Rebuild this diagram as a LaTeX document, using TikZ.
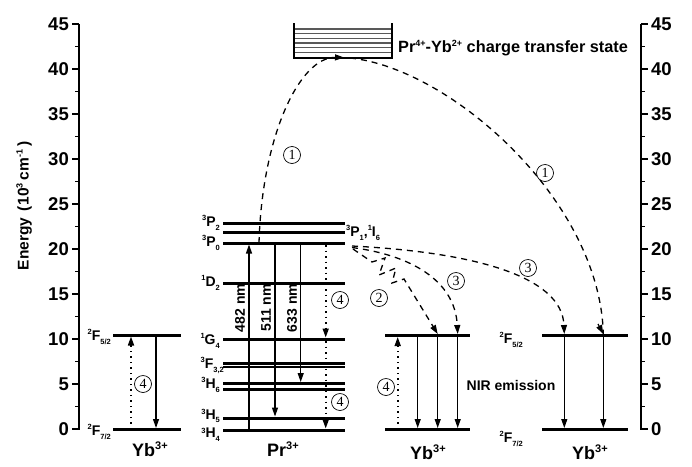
\documentclass[tikz,border=0pt]{standalone}
\usepackage{fontspec}
\setmainfont{Liberation Sans}
\newfontfamily\numfont{Liberation Serif}
\usetikzlibrary{arrows.meta}
\newcommand{\Lsup}[1]{\raisebox{5.5pt}{\fontsize{7.5}{7.5}\selectfont #1}}
\newcommand{\Lsub}[1]{\raisebox{-4pt}{\fontsize{7.5}{7.5}\selectfont #1}}
\newcommand{\Bsup}[1]{\raisebox{7pt}{\fontsize{11}{11}\selectfont #1}}
\newcommand{\Csup}[1]{\raisebox{6pt}{\fontsize{9}{9}\selectfont #1}}
\begin{document}
\begin{tikzpicture}[x=1pt,y=-1pt,
  every node/.style={font=\bfseries\fontsize{14}{14}\selectfont, inner sep=0pt},
  level/.style={line width=3pt},
  axisln/.style={line width=1.4pt},
  arr/.style={line width=1.2pt,-{Triangle[length=9pt,width=6pt]}},
  dsh/.style={line width=1.3pt,dash pattern=on 6pt off 5pt},
  dsharr/.style={dsh,-{Triangle[length=9pt,width=6pt]}},
  dots/.style={line width=1.6pt,dash pattern=on 1.5pt off 4pt},
  dotsarr/.style={dots,-{Triangle[length=9pt,width=6pt]}},
  circ/.style={draw,circle,line width=0.7pt,minimum size=17pt,inner sep=0pt,font=\numfont\fontsize{14}{14}\selectfont},
  tick/.style={font=\bfseries\fontsize{18.5}{18.5}\selectfont},
  ion/.style={font=\bfseries\fontsize{18}{18}\selectfont},
  lab/.style={font=\bfseries\fontsize{14}{14}\selectfont}]
\useasboundingbox (0,0) rectangle (692,466);
\fill[white] (0,0) rectangle (692,466);

% ---------- axes ----------
\coordinate (LA0) at (79,429.5);
\coordinate (LA45) at (79,24);
\coordinate (RA0) at (641,429.5);
\coordinate (RA45) at (641,24);
\draw[axisln] (LA45) -- (LA0);
\draw[axisln] (RA45) -- (RA0);
\foreach \v in {0,5,...,45} {
  \draw[axisln] (79,{429-9*\v}) -- ++(-7,0);
  \draw[axisln] (641,{429-9*\v}) -- ++(7,0);
  \node[tick,anchor=east] (L\v) at (69,{429-9*\v}) {\v};
  \node[tick,anchor=west] (R\v) at (651,{429-9*\v}) {\v};
}
\foreach \v in {2.5,7.5,...,42.5} {
  \draw[axisln] (79,{429-9*\v}) -- ++(-4,0);
  \draw[axisln] (641,{429-9*\v}) -- ++(4,0);
}
\node[rotate=90,font=\bfseries\fontsize{15.5}{15.5}\selectfont] (ylab) at (24,206)
  {Energy\hspace{6pt}(\hspace{1pt}10\Csup{3}\hspace{3pt}cm\Csup{-1}\hspace{3pt})};

% ---------- left Yb3+ ----------
\coordinate (a1l) at (113,335); \coordinate (a1r) at (181,335);
\coordinate (a0l) at (113,429.5); \coordinate (a0r) at (181,429.5);
\draw[level] (a1l) -- (a1r);
\draw[level] (a0l) -- (a0r);
\node[lab,anchor=base east] (aF5) at (111,340) {\Lsup{2}F\Lsub{5/2}};
\node[lab,anchor=base east] (aF7) at (111,435) {\Lsup{2}F\Lsub{7/2}};
\coordinate (aup0) at (131,429); \coordinate (aup1) at (131,336.5);
\coordinate (adn1) at (156,335); \coordinate (adn0) at (156,428);
\draw[dotsarr] (aup0) -- (aup1);
\draw[arr] (adn1) -- (adn0);
\node[circ] (c4a) at (143,384) {4};
\node[ion] (ybA) at (150,449) {Yb\Bsup{3+}};

% ---------- Pr3+ ----------
\foreach \n/\y in {P2/223,P1/232,P0/243,D2/283,G4/339,H5/418,H4/430} {
  \coordinate (\n l) at (223,\y); \coordinate (\n r) at (345,\y);
  \draw[level] (\n l) -- (\n r);
}
\foreach \n/\y in {F3/363.5,F2/367.2,H6a/383.5,H6b/389.5} {
  \coordinate (\n l) at (223,\y); \coordinate (\n r) at (345,\y);
  \draw[line width=2.3pt] (\n l) -- (\n r);
}
\node[lab,anchor=base east] (tP2) at (220,226) {\Lsup{3}P\Lsub{2}};
\node[lab,anchor=base east] (tP0) at (220,246) {\Lsup{3}P\Lsub{0}};
\node[lab,anchor=base east] (tD2) at (220,286) {\Lsup{1}D\Lsub{2}};
\node[lab,anchor=base east] (tG4) at (220,344) {\Lsup{1}G\Lsub{4}};
\node[lab,anchor=base east] (tF) at (224,368) {\Lsup{3}F\Lsub{3,2}};
\node[lab,anchor=base east] (tH6) at (220,388) {\Lsup{3}H\Lsub{6}};
\node[lab,anchor=base east] (tH5) at (220,419.5) {\Lsup{3}H\raisebox{-2.5pt}{\fontsize{7.5}{7.5}\selectfont 5}};
\node[lab,anchor=base east] (tH4) at (220,437) {\raisebox{4pt}{\fontsize{7.5}{7.5}\selectfont 3}H\Lsub{4}};
\node[lab,anchor=base west] (tP1) at (346,236) {\Lsup{3}P\Lsub{1},\Lsup{1}I\Lsub{6}};

\coordinate (e482a) at (249,430); \coordinate (e482b) at (249,244.5);
\coordinate (e511a) at (275,243); \coordinate (e511b) at (275,416.5);
\coordinate (e633a) at (300.7,243); \coordinate (e633b) at (300.7,382);
\draw[arr] (e482a) -- (e482b);
\draw[arr] (e511a) -- (e511b);
\draw[arr] (e633a) -- (e633b);
\node[lab,rotate=90] (n482) at (240,308) {482 nm};
\node[lab,rotate=90] (n511) at (266,308) {511 nm};
\node[lab,rotate=90] (n633) at (292,308) {633 nm};
\coordinate (pd0) at (325.7,245); \coordinate (pd1) at (325.7,337.5);
\coordinate (pd2) at (325.7,341); \coordinate (pd3) at (325.7,428.5);
\draw[dotsarr] (pd0) -- (pd1);
\draw[dotsarr] (pd2) -- (pd3);
\node[circ] (c4b) at (340,300) {4};
\node[circ] (c4c) at (340,402) {4};
\node[ion] (prion) at (283,449) {Pr\Bsup{3+}};

% ---------- middle Yb3+ ----------
\coordinate (b1l) at (385,335.5); \coordinate (b1r) at (470,335.5);
\coordinate (b0l) at (385,429.5); \coordinate (b0r) at (470,429.5);
\draw[level] (b1l) -- (b1r);
\draw[level] (b0l) -- (b0r);
\coordinate (bup0) at (397.7,429); \coordinate (bup1) at (397.7,337);
\draw[dotsarr] (bup0) -- (bup1);
\foreach \x [count=\i] in {417.7,437.7,457.7} {
  \coordinate (bd\i a) at (\x,335.5); \coordinate (bd\i b) at (\x,428);
  \draw[arr] (bd\i a) -- (bd\i b);
}
\node[circ,fill=white] (c4d) at (386,387) {4};
\node[ion] (ybB) at (428,452) {Yb\Bsup{3+}};
\node[lab] (nir) at (511,385) {NIR emission};

% ---------- right Yb3+ ----------
\coordinate (c1l) at (542,335.5); \coordinate (c1r) at (628,335.5);
\coordinate (c0l) at (542,429.5); \coordinate (c0r) at (628,429.5);
\draw[level] (c1l) -- (c1r);
\draw[level] (c0l) -- (c0r);
\node[lab,anchor=base east] (cF5) at (523,343) {\Lsup{2}F\Lsub{5/2}};
\node[lab,anchor=base east] (cF7) at (523,442) {\Lsup{2}F\Lsub{7/2}};
\foreach \x [count=\i] in {564.3,603.3} {
  \coordinate (cd\i a) at (\x,335.5); \coordinate (cd\i b) at (\x,428);
  \draw[arr] (cd\i a) -- (cd\i b);
}
\node[ion] (ybC) at (590,452) {Yb\Bsup{3+}};

% ---------- charge transfer state ----------
\coordinate (ctTL) at (294.3,23.3); \coordinate (ctBL) at (294.3,57.7);
\coordinate (ctBR) at (392.3,57.7); \coordinate (ctTR) at (392.3,23.3);
\foreach \y in {29,33.7,38.3,43,47.7,52.3}
  \draw[line width=1.1pt,black!65] (295,\y) -- (391.5,\y);
\draw[line width=1.8pt] (ctTL) -- (ctBL) -- (ctBR) -- (ctTR);
\node[lab,anchor=base west,font=\bfseries\fontsize{16.3}{16.3}\selectfont] (ctlab) at (398,52)
  {Pr\Csup{4+}-Yb\Csup{2+} charge transfer state};

% ---------- transfer paths ----------
\coordinate (ctS) at (259,243);
\coordinate (ctApex) at (344,57.5);
\coordinate (ctOut) at (350,58);
\coordinate (ctEnd) at (603.3,334);
\draw[dsharr] (ctS) .. controls (262,135) and (300,57) .. (ctApex);
\draw[dsh] (ctOut) .. controls (450,68) and (600,200) .. (ctEnd);
\draw[-{Triangle[length=9pt,width=6pt]},line width=1.2pt] (598,324) -- (ctEnd);
\node[circ] (c1a) at (292,155) {1};
\node[circ] (c1b) at (545,173) {1};

\coordinate (s3a) at (352,246);
\coordinate (e3a) at (564.3,334);
\draw[dsharr] (s3a) .. controls (470,252) and (562,275) .. (e3a);
\coordinate (s3b) at (352,247.5);
\coordinate (e3b) at (457.7,334);
\draw[dsharr] (s3b) .. controls (410,255) and (455,280) .. (e3b);
\node[circ] (c3a) at (528,268) {3};
\node[circ] (c3b) at (456,281) {3};

\coordinate (s2) at (353,249);
\coordinate (e2) at (437.7,334);
\draw[dsharr] (s2) -- (372,262) -- (385,258) -- (379,275) -- (396,268) -- (392,283) -- (404,279) -- (e2);
\node[circ] (c2) at (379,298) {2};
\end{tikzpicture}
\end{document}
